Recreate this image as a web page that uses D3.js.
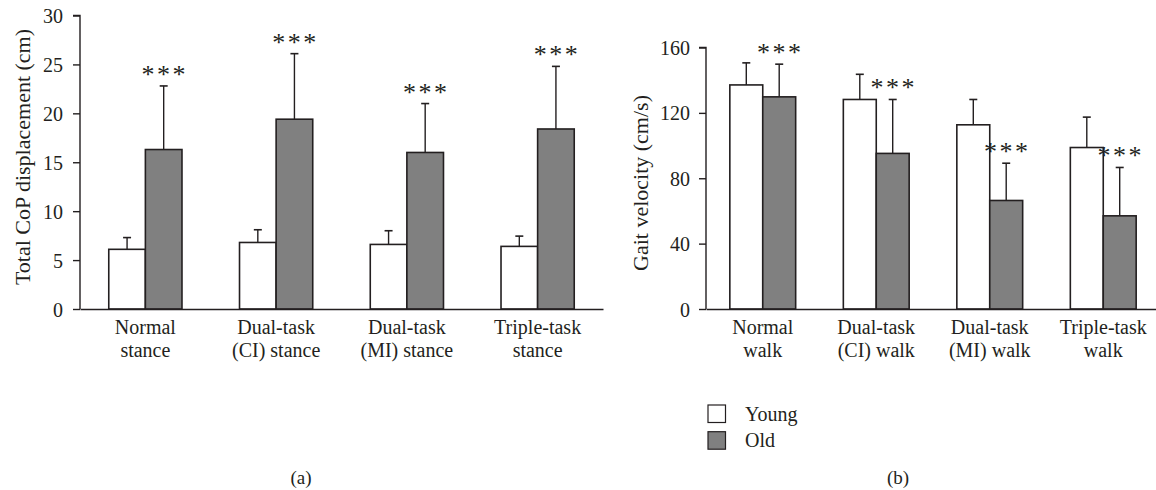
<!DOCTYPE html>
<html>
<head>
<meta charset="utf-8">
<script src="https://cdn.jsdelivr.net/npm/d3@7"></script>
<style>
  body { margin: 0; background: #fff; }
  text { font-family: "Liberation Serif", "DejaVu Serif", serif; fill: #231f20; }
</style>
</head>
<body>
<div id="chart"></div>
<script>
// panel (a): total CoP displacement
var stanceLabels = [["Normal", "stance"], ["Dual-task", "(CI) stance"], ["Dual-task", "(MI) stance"], ["Triple-task", "stance"]];
var copYoung = [6.1, 6.8, 6.6, 6.4];
var copYoungSd = [1.2, 1.3, 1.4, 1.05];
var copOld = [16.3, 19.4, 16.0, 18.4];
var copOldSd = [6.5, 6.7, 5.0, 6.4];
var copTicks = [0, 5, 10, 15, 20, 25, 30];

// panel (b): gait velocity
var walkLabels = [["Normal", "walk"], ["Dual-task", "(CI) walk"], ["Dual-task", "(MI) walk"], ["Triple-task", "walk"]];
var gaitYoung = [137.1, 128.2, 112.7, 98.8];
var gaitYoungSd = [13.5, 15.4, 15.5, 18.6];
var gaitOld = [129.8, 95.2, 66.4, 57.0];
var gaitOldSd = [20.0, 33.0, 22.8, 29.6];
var gaitTicks = [0, 40, 80, 120, 160];

var groups = ["Young", "Old"];
var fills = {"Young": "#ffffff", "Old": "#808080"};

var svg = d3.select("#chart").append("svg")
    .attr("width", 1156)
    .attr("height", 490);

function drawPanel(opt) {
    var g = svg.append("g");

    var x = d3.scaleBand()
        .domain(d3.range(opt.labels.length))
        .range(opt.xRange)
        .paddingInner(opt.pad)
        .paddingOuter(opt.pad / 2);
    var xs = d3.scaleBand().domain(groups).range([0, x.bandwidth()]);
    var y = d3.scaleLinear().domain(opt.yDomain).range(opt.yRange);

    let rows = [];
    opt.young.forEach((v, i) => {
        rows.push({i: i, grp: "Young", v: v, sd: opt.youngSd[i]});
        rows.push({i: i, grp: "Old", v: opt.old[i], sd: opt.oldSd[i], star: true});
    });

    g.selectAll(".bar")
        .data(rows)
        .enter().append("rect")
        .attr("x", (d) => x(d.i) + xs(d.grp))
        .attr("y", (d) => y(d.v))
        .attr("width", xs.bandwidth())
        .attr("height", (d) => y(0) - y(d.v))
        .style("fill", (d) => fills[d.grp])
        .style("stroke", "#231f20")
        .style("stroke-width", 1.6);

    // error bars, upper side only
    let err = g.selectAll(".err")
        .data(rows)
        .enter().append("g");
    err.append("line")
        .attr("x1", (d) => x(d.i) + xs(d.grp) + xs.bandwidth() / 2)
        .attr("x2", (d) => x(d.i) + xs(d.grp) + xs.bandwidth() / 2)
        .attr("y1", (d) => y(d.v))
        .attr("y2", (d) => y(d.v + d.sd))
        .style("stroke", "#231f20")
        .style("stroke-width", 1.4);
    err.append("line")
        .attr("x1", (d) => x(d.i) + xs(d.grp) + xs.bandwidth() / 2 - 4)
        .attr("x2", (d) => x(d.i) + xs(d.grp) + xs.bandwidth() / 2 + 4)
        .attr("y1", (d) => y(d.v + d.sd))
        .attr("y2", (d) => y(d.v + d.sd))
        .style("stroke", "#231f20")
        .style("stroke-width", 1.6);

    g.selectAll(".star")
        .data(rows.filter((d) => d.star))
        .enter().append("text")
        .attr("x", (d) => x(d.i) + xs(d.grp) + xs.bandwidth() / 2 + 1)
        .attr("y", (d) => y(d.v + d.sd) - 3)
        .attr("text-anchor", "middle")
        .style("font-size", "26px")
        .style("letter-spacing", "2.5px")
        .text("***");

    // axes
    let yAxis = g.append("g")
        .attr("transform", "translate(" + opt.xRange[0] + ",0)")
        .call(d3.axisLeft(y).tickValues(opt.ticks).tickSize(7).tickPadding(opt.tickPad));
    yAxis.selectAll("text").style("font-size", "20px").attr("dy", "0.35em");
    yAxis.selectAll("path, line").style("stroke", "#231f20").style("stroke-width", 1.4);
    yAxis.select(".domain").attr("d", "M-7," + y(opt.yDomain[1]) + "H0V" + y(0));

    let xAxis = g.append("g")
        .attr("transform", "translate(0," + y(0) + ")")
        .call(d3.axisBottom(x).tickSize(0).tickFormat(""));
    xAxis.select(".domain").style("stroke", "#231f20").style("stroke-width", 1.6);

    g.selectAll(".xlab")
        .data(opt.labels)
        .enter().append("text")
        .attr("text-anchor", "middle")
        .style("font-size", "20px")
        .each(function (d, i) {
            let t = d3.select(this);
            d.forEach((line, k) => {
                t.append("tspan")
                    .attr("x", x(i) + x.bandwidth() / 2)
                    .attr("y", y(0) + 25 + k * 23)
                    .text(line);
            });
        });

    g.append("text")
        .attr("transform", "translate(" + opt.titleX + "," + opt.titleY + ") rotate(-90)")
        .attr("text-anchor", "middle")
        .attr("dy", "0.35em")
        .style("font-size", "22px")
        .text(opt.title);

    g.append("text")
        .attr("x", opt.capX)
        .attr("y", 484)
        .attr("text-anchor", "middle")
        .style("font-size", "19px")
        .text(opt.caption);
}

drawPanel({
    labels: stanceLabels, young: copYoung, youngSd: copYoungSd, old: copOld, oldSd: copOldSd,
    ticks: copTicks, yDomain: [0, 30], yRange: [309, 15.5], xRange: [80, 603], pad: 0.44, tickPad: 10,
    title: "Total CoP displacement (cm)", titleX: 22, titleY: 157, capX: 301, caption: "(a)"
});

drawPanel({
    labels: walkLabels, young: gaitYoung, youngSd: gaitYoungSd, old: gaitOld, oldSd: gaitOldSd,
    ticks: gaitTicks, yDomain: [0, 160], yRange: [309, 47.5], xRange: [706, 1160], pad: 0.42, tickPad: 9,
    title: "Gait velocity (cm/s)", titleX: 640, titleY: 183, capX: 898, caption: "(b)"
});

// legend
let legend = svg.append("g").attr("transform", "translate(708,405)");
let items = legend.selectAll("g")
    .data(groups)
    .enter().append("g")
    .attr("transform", (d, i) => "translate(0," + i * 26.7 + ")");
items.append("rect")
    .attr("width", 17.5)
    .attr("height", 17.5)
    .style("fill", (d) => fills[d])
    .style("stroke", "#231f20")
    .style("stroke-width", 1.2);
items.append("text")
    .attr("x", 37)
    .attr("y", 15.5)
    .style("font-size", "20px")
    .text((d) => d);
</script>
</body>
</html>
